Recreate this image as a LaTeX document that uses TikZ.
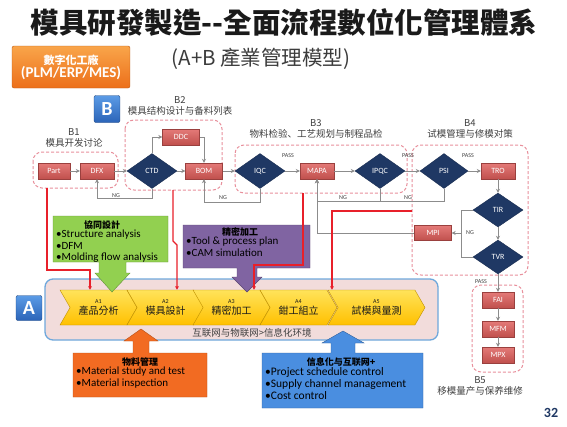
\documentclass[tikz,border=0pt]{standalone}
\usepackage{fontspec}
\setmainfont{Carlito}
\newfontfamily\tcfont{Noto Sans CJK TC}
\newfontfamily\scfont{Noto Sans CJK SC}
\usetikzlibrary{shapes.geometric,shapes.symbols,arrows.meta}
\definecolor{vtitle}{HTML}{1A1A1A}
\definecolor{vred}{HTML}{C0504D}
\definecolor{vredtop}{HTML}{E47A78}
\definecolor{vnavy}{HTML}{1F3864}
\definecolor{vline}{HTML}{8C8C8C}
\definecolor{vdash}{HTML}{E8909C}
\definecolor{vorange}{HTML}{EC6F1A}
\definecolor{vorangetop}{HTML}{F9A54A}
\definecolor{vblue}{HTML}{2B64B8}
\definecolor{vbluetop}{HTML}{5B9BE6}
\definecolor{vgreen}{HTML}{92D050}
\definecolor{vpurple}{HTML}{8064A2}
\definecolor{vgold}{HTML}{FFC000}
\definecolor{vgoldtop}{HTML}{FFE35A}
\definecolor{vpink}{HTML}{F2DCDB}
\definecolor{vsky}{HTML}{6FA8DC}
\definecolor{vmat}{HTML}{F26B22}
\definecolor{vinfo}{HTML}{4A8EE0}
\definecolor{vlabel}{HTML}{404040}
\definecolor{vfeed}{HTML}{E8202A}

\tikzset{
	redbox/.style={draw=vred!80!black, top color=vredtop, bottom color=vred, text=white, minimum width=34pt, minimum height=16pt, inner sep=1pt, font=\fontsize{8}{8}\selectfont},
	navydia/.style={diamond, draw=vnavy!80!black, fill=vnavy, text=white, minimum width=50pt, minimum height=35pt, inner sep=0pt, font=\fontsize{8}{8}\selectfont},
	flow/.style={draw=vline, line width=0.7pt, -{Stealth[length=4pt,width=4pt]}},
	plainflow/.style={draw=vline, line width=0.7pt},
	tag/.style={font=\fontsize{6}{6}\selectfont, text=vlabel, inner sep=1pt},
	group/.style={draw=vdash, line width=1pt, dash pattern=on 3pt off 2pt, rounded corners=9pt},
	grouptitle/.style={font=\scfont\fontsize{9.5}{11.5}\selectfont, text=vlabel, align=center, inner sep=0pt},
	feed/.style={draw=vfeed, line width=1.2pt, -{Triangle[length=3.5pt,width=3.5pt]}},
	chev/.style={signal, signal to=east, signal from=west, signal pointer angle=120, top color=vgoldtop, bottom color=vgold, draw=vgold!75!black, minimum width=77pt, minimum height=35pt, inner sep=0pt, align=center, text=vtitle},
	bullets/.style={font=\fontsize{11}{11.5}\selectfont, align=left, inner sep=0pt, anchor=north west},
	headtitle/.style={font=\tcfont\bfseries\fontsize{9}{10}\selectfont, inner sep=0pt},
	lettermark/.style={rounded corners=2pt, top color=vbluetop, bottom color=vblue, draw=vblue!70!black, text=white, font=\bfseries\fontsize{20}{20}\selectfont, minimum width=26pt, minimum height=27pt, inner sep=0pt}
}

\begin{document}
\begin{tikzpicture}[x=1pt, y=-1pt]
	\useasboundingbox[fill=white] (0,0) rectangle (567,426);

	% title
	\node[font=\tcfont\bfseries\fontsize{28.5}{30}\selectfont, text=vtitle] (title) at (284,23) {模具研發製造--全面流程數位化管理體系};
	\node[font=\tcfont\fontsize{20.5}{22}\selectfont, text=vtitle!85] (subtitle) at (261,59) {(A+B 產業管理模型)};
	\node[rounded corners=2pt, top color=vorangetop, bottom color=vorange, draw=vorange!80!black, text=white, minimum width=118pt, minimum height=42pt, inner sep=0pt, align=center] (factory) at (71,67) {{\tcfont\bfseries\fontsize{11}{13}\selectfont 數字化工廠}\\{\bfseries\fontsize{15}{16}\selectfont (PLM/ERP/MES)}};
	\node[lettermark] (bmark) at (107,109) {B};

	% B groups
	\draw[group] (33,152) rectangle (118,188);
	\draw[group] (125,120) rectangle (222,190);
	\draw[group] (235,145) rectangle (407,193);
	\draw[group] (412,145) rectangle (528,275);
	\draw[group] (472,285) rectangle (523,372);
	\node[grouptitle] (b1title) at (74,138) {B1\\模具开发讨论};
	\node[grouptitle] (b2title) at (180,106) {B2\\模具结构设计与备料列表};
	\node[grouptitle] (b3title) at (316,129) {B3\\物料检验、工艺规划与制程品检};
	\node[grouptitle] (b4title) at (470,129) {B4\\试模管理与修模对策};
	\node[grouptitle] (b5title) at (480,386) {B5\\移模量产与保养维修};

	% B flow nodes
	\node[redbox, minimum width=32pt] (part) at (54,171) {Part};
	\node[redbox] (dfx) at (97,171) {DFX};
	\node[navydia] (ctd) at (152,171) {CTD};
	\node[redbox, minimum width=37pt] (ddc) at (181,137) {DDC};
	\node[redbox, minimum width=37pt] (bom) at (204,171) {BOM};
	\node[navydia] (iqc) at (260,171) {IQC};
	\node[redbox] (mapa) at (317,171) {MAPA};
	\node[navydia] (ipqc) at (380,171) {IPQC};
	\node[navydia, minimum width=48pt] (psi) at (444,171) {PSI};
	\node[redbox] (tro) at (498,171) {TRO};
	\node[navydia, minimum height=34pt] (tir) at (498,210) {TIR};
	\node[navydia, minimum height=34pt] (tvr) at (498,257) {TVR};
	\node[redbox, minimum width=37pt, minimum height=15pt] (mpi) at (433,233) {MPI};
	\node[redbox, minimum width=32pt] (fai) at (498,300) {FAI};
	\node[redbox, minimum width=32pt] (mfm) at (498,329) {MFM};
	\node[redbox, minimum width=32pt] (mpx) at (498,355) {MPX};

	% B connectors
	\draw[flow] (part) -- (dfx);
	\draw[flow] (dfx) -- (ctd);
	\draw[flow] (ctd) -- (bom);
	\draw[flow] (ctd.north) |- (ddc.west);
	\draw[flow] (ddc.east) -| (bom.north);
	\draw[flow] (ctd.south) -- ++(0,10) -| (dfx.south);
	\draw[flow] (bom) -- (iqc);
	\draw[flow] (iqc) -- (mapa);
	\draw[flow] (iqc.south) -- ++(0,14) -| (bom.south);
	\draw[flow] (mapa) -- (ipqc);
	\draw[flow] (ipqc) -- (psi);
	\draw[flow] (ipqc.south) -- ++(0,13) -| (mapa.south);
	\draw[flow] (psi.south) -- ++(0,13) -| (mapa.south);
	\draw[flow] (mpi.west) -| (mapa.south);
	\draw[flow] (psi) -- (tro);
	\draw[flow] (tro) -- (tir);
	\draw[flow] (tir) -- (tvr);
	\draw[plainflow] (tir.west) -- ++(-11,0) |- (tvr.west);
	\coordinate (tirbend) at (462,233);
	\draw[flow] (tirbend) -- (mpi.east);
	\draw[flow] (tvr) -- (fai);
	\draw[flow] (fai) -- (mfm);
	\draw[flow] (mfm) -- (mpx);
	\node[tag] at (116,196) {NG};
	\node[tag] at (223,198) {NG};
	\node[tag] at (343,198) {NG};
	\node[tag] at (408,198) {NG};
	\node[tag] at (470,233) {NG};
	\node[tag] at (288,156) {PASS};
	\node[tag] at (408,156) {PASS};
	\node[tag] at (468,156) {PASS};
	\node[tag] at (481,282) {PASS};

	% A row
	\draw[fill=vpink, draw=vsky, line width=1.3pt, rounded corners=8pt] (45,279) rectangle (438,340);
	\node[lettermark, minimum height=25pt] (amark) at (29,308) {A};
	\node[chev] (a1) at (98.5,307.5) {{\fontsize{6}{7}\selectfont A1}\\[-1pt]{\tcfont\fontsize{10}{11}\selectfont 產品分析}};
	\node[chev] (a2) at (165.5,307.5) {{\fontsize{6}{7}\selectfont A2}\\[-1pt]{\tcfont\fontsize{10}{11}\selectfont 模具設計}};
	\node[chev] (a3) at (231.5,307.5) {{\fontsize{6}{7}\selectfont A3}\\[-1pt]{\tcfont\fontsize{10}{11}\selectfont 精密加工}};
	\node[chev] (a4) at (298.5,307.5) {{\fontsize{6}{7}\selectfont A4}\\[-1pt]{\tcfont\fontsize{10}{11}\selectfont 鉗工組立}};
	\node[chev, minimum width=97pt] (a5) at (376.5,307.5) {{\fontsize{6}{7}\selectfont A5}\\[-1pt]{\tcfont\fontsize{10}{11}\selectfont 試模與量測}};
	\node[font=\scfont\fontsize{9.5}{10}\selectfont, text=vlabel] (netenv) at (252,333) {互联网与物联网>信息化环境};

	% callouts
	\draw[fill=vgreen, draw=vgreen!70!black] (53,216) -- (168,216) -- (168,262) -- (126,262) -- (126,273) -- (130,273) -- (112,292) -- (95,273) -- (99,273) -- (99,262) -- (53,262) -- cycle;
	\node[headtitle] (cotitle) at (102,225) {協同設計};
	\node[bullets] (colist) at (56,230) {•Structure analysis\\•DFM\\•Molding flow analysis};
	\draw[fill=vpurple, draw=vpurple!70!black] (183,225) -- (310,225) -- (310,268) -- (257,268) -- (257,277) -- (262,277) -- (247,292) -- (232,277) -- (237,277) -- (237,268) -- (183,268) -- cycle;
	\node[headtitle] (mctitle) at (240,232) {精密加工};
	\node[bullets] (mclist) at (186,237) {•Tool \& process plan\\•CAM simulation};
	\draw[fill=vmat, draw=vmat!75!black] (73,353) -- (133,353) -- (133,341) -- (124,341) -- (141,329) -- (158,341) -- (149,341) -- (149,353) -- (207,353) -- (207,397) -- (73,397) -- cycle;
	\node[headtitle] (mattitle) at (140,362) {物料管理};
	\node[bullets] (matlist) at (76,367) {•Material study and test\\•Material inspection};
	\draw[fill=vinfo, draw=vinfo!70!black] (262,353) -- (331,353) -- (331,343) -- (322,343) -- (343,331) -- (364,343) -- (355,343) -- (355,353) -- (423,353) -- (423,408) -- (262,408) -- cycle;
	\node[headtitle] (infotitle) at (341,362) {信息化与互联网+};
	\node[bullets, font=\fontsize{11.5}{12}\selectfont] (infolist) at (265,367) {•Project schedule control\\•Supply channel management\\•Cost control};

	% feeds from B to A
	\coordinate (b1foot) at (47,188);
	\coordinate (b2foot) at (173,190);
	\coordinate (b3foot) at (303,193);
	\coordinate (b4side) at (412,211);
	\draw[feed] (b1foot) |- (90,270) -- ([xshift=-8.5pt]a1.north);
	\draw[feed] (b2foot) -- (173,241) -- (177,245) -- ([xshift=11.5pt]a2.north);
	\draw[feed] (b3foot) |- (254,265) -- ([xshift=22.5pt]a3.north);
	\draw[feed] (b4side) -| ([xshift=33.5pt]a4.north);

	\node[font=\bfseries\fontsize{14}{14}\selectfont, text=vnavy] (pageno) at (551,413) {32};
\end{tikzpicture}
\end{document}
